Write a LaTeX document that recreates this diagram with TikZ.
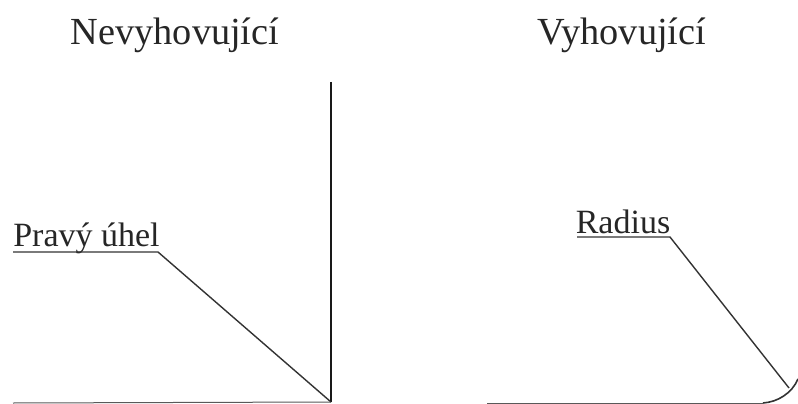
\documentclass[tikz,border=0pt]{standalone}
\usepackage{fontspec}
\setmainfont{Liberation Serif}
\tikzset{px/.style={x=1pt,y=-1pt},ln/.style={line width=1.4pt,black!80},lab/.style={inner sep=0pt,anchor=base,font=\fontsize{34}{38}\selectfont,text=black!85},title/.style={inner sep=0pt,anchor=base,font=\fontsize{38.3}{42}\selectfont,text=black!85}}
\begin{document}
\begin{tikzpicture}[px]
\useasboundingbox (0,0) rectangle (798,404);
\fill[white] (0,0) rectangle (798,404);
\node[title] (t1) at (175,45) {Nevyhovující};
\node[title] (t2) at (622,45) {Vyhovující};
\node[lab] (l1) at (86.5,246) {Pravý úhel};
\node[lab] (l2) at (623,233) {Radius};
\coordinate (a0) at (13,252);
\coordinate (a1) at (158,252);
\coordinate (c) at (331,402);
\coordinate (top) at (331,82);
\coordinate (b0) at (13,403);
\draw[ln] (a0) -- (a1) -- (c);
\draw[ln,line width=2pt,black!90] (top) -- (c);
\draw[ln,line width=1pt,black!65] (b0) -- (c);
\coordinate (d0) at (577,237);
\coordinate (d1) at (670,237);
\coordinate (e) at (789,388);
\coordinate (f0) at (487,403);
\coordinate (f1) at (763,403);
\coordinate (f2) at (798,379);
\draw[ln] (d0) -- (d1) -- (e);
\draw[ln,line width=1pt,black!65] (f0) -- (f1);
\draw[ln,line width=1.6pt] (f1) .. controls (778,402) and (792,393) .. (f2);
\end{tikzpicture}
\end{document}
